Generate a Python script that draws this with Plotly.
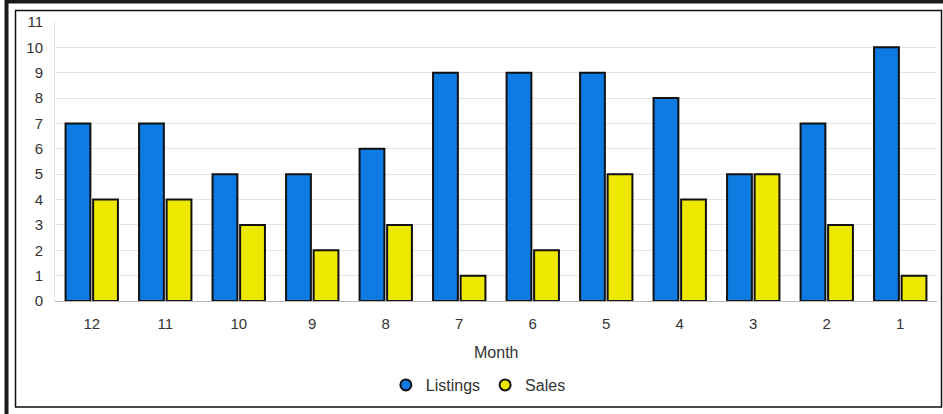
import plotly.graph_objects as go

months = ["12", "11", "10", "9", "8", "7", "6", "5", "4", "3", "2", "1"]
listings = [7, 7, 5, 5, 6, 9, 9, 9, 8, 5, 7, 10]
sales = [4, 4, 3, 2, 3, 1, 2, 5, 4, 5, 3, 1]
y_ticks = list(range(0, 12))

BLUE = "#0d7be2"
YELLOW = "#eee800"
W, H = 943, 414
L, R, T, B = 55, 6, 22, 113
pw, ph = W - L - R, H - T - B


def px(x):
    return (x - L) / pw


def py(y):
    return (H - B - y) / ph


fig = go.Figure()
fig.add_trace(go.Bar(x=months, y=listings, name="Listings", marker=dict(color=BLUE, line=dict(color="#111", width=2)), showlegend=False))
fig.add_trace(go.Bar(x=months, y=sales, name="Sales", marker=dict(color=YELLOW, line=dict(color="#111", width=2)), showlegend=False))
# legend entries with circular markers
fig.add_trace(go.Scatter(x=[None], y=[None], mode="markers", name="Listings",
                         marker=dict(symbol="circle", size=11, color=BLUE, line=dict(color="#111", width=2))))
fig.add_trace(go.Scatter(x=[None], y=[None], mode="markers", name="Sales",
                         marker=dict(symbol="circle", size=11, color=YELLOW, line=dict(color="#111", width=2))))

font = dict(family="Liberation Sans, Arial, sans-serif", size=15, color="#333")

fig.update_layout(
    width=W, height=H,
    margin=dict(l=L, r=R, t=T, b=B),
    paper_bgcolor="white", plot_bgcolor="white",
    barmode="group", bargap=0.25, bargroupgap=0.1,
    font=font,
    showlegend=True,
    legend=dict(orientation="h", x=0.48, xanchor="center", y=py(385), yanchor="middle",
                font=dict(size=16, color="#333"), itemwidth=30, tracegroupgap=0),
    xaxis=dict(categoryorder="array", categoryarray=months, showgrid=False,
               ticks="outside", ticklen=9, tickcolor="rgba(0,0,0,0)",
               showline=False, zeroline=False, tickfont=dict(size=15)),
    yaxis=dict(range=[0, 11], tickvals=y_ticks, showgrid=True, gridcolor="#e4e4e4", gridwidth=1,
               zeroline=True, zerolinecolor="#b8b8b8", zerolinewidth=1,
               ticks="outside", ticklen=8, tickcolor="rgba(0,0,0,0)",
               showline=True, linecolor="#e4e4e4", linewidth=1, tickfont=dict(size=15)),
    annotations=[dict(text="Month", x=0.5 * (px(55) + px(937)), y=py(352), xref="paper", yref="paper",
                      showarrow=False, font=dict(size=16, color="#333"), xanchor="center", yanchor="middle")],
    shapes=[
        # inner thin frame
        dict(type="rect", xref="paper", yref="paper", x0=px(15.5), x1=px(941.5), y0=py(407), y1=py(10.5),
             line=dict(color="#111", width=1.5), fillcolor="rgba(0,0,0,0)", layer="above"),
        # outer thick frame (top and left)
        dict(type="path", xref="paper", yref="paper",
             path=f"M {px(6.5)} {py(420)} L {px(6.5)} {py(1.5)} L {px(950)} {py(1.5)}",
             line=dict(color="#1a1a1a", width=4), layer="above"),
    ],
)

fig.write_html("out.html")
